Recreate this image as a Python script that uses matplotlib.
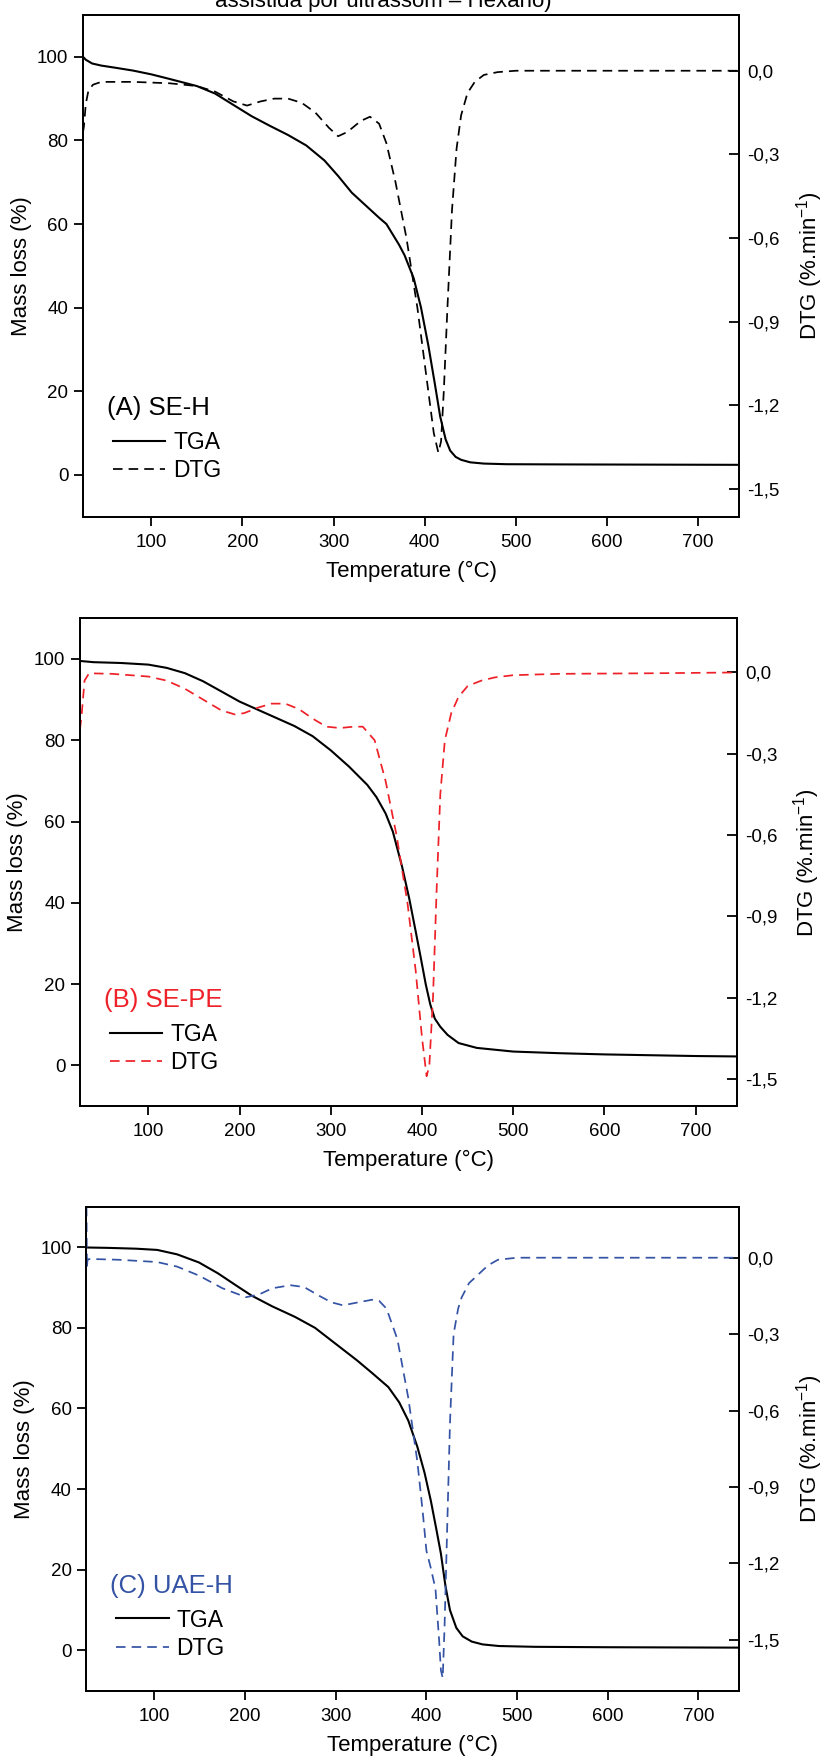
import numpy as np
import matplotlib.pyplot as plt

plt.rcParams['font.family'] = ['Liberation Sans', 'DejaVu Sans']
plt.rcParams['mathtext.fontset'] = 'custom'
plt.rcParams['mathtext.rm'] = 'Liberation Sans'
plt.rcParams['mathtext.default'] = 'regular'

# axis ticks
temp_ticks = [100, 200, 300, 400, 500, 600, 700]
mass_ticks = [0, 20, 40, 60, 80, 100]
dtg_ticks = [0.0, -0.3, -0.6, -0.9, -1.2, -1.5]
dtg_tick_labels = ['0,0', '-0,3', '-0,6', '-0,9', '-1,2', '-1,5']

# (A) SE-H
a_t_tga = [25, 28, 35, 45, 60, 80, 100, 120, 150, 170, 190, 210, 230, 250, 270, 290, 305, 320, 335, 350,
           358, 365, 372, 378, 388, 396, 404, 411, 417, 423, 428, 434, 440, 450, 465, 490, 550, 650, 745]
a_tga = [100, 99.3, 98.4, 97.9, 97.4, 96.7, 95.8, 94.7, 93.0, 91.2, 88.5, 85.8, 83.5, 81.3, 78.8, 75.2, 71.5,
         67.5, 64.5, 61.5, 60.0, 57.5, 55.0, 52.5, 47.0, 40.0, 31.0, 22.0, 14.0, 8.5, 5.8, 4.3, 3.6, 3.0, 2.7,
         2.55, 2.5, 2.45, 2.4]
a_t_dtg = [25, 26, 28, 31, 36, 45, 80, 120, 150, 170, 190, 205, 220, 235, 250, 265, 280, 295, 305, 315, 330,
           340, 350, 358, 368, 380, 392, 402, 410, 415, 418, 421, 425, 430, 435, 440, 447, 455, 465, 480,
           500, 600, 700, 745]
a_dtg = [-0.22, -0.2, -0.12, -0.07, -0.05, -0.04, -0.04, -0.045, -0.055, -0.075, -0.11, -0.125, -0.11, -0.1,
         -0.1, -0.115, -0.15, -0.205, -0.235, -0.22, -0.18, -0.165, -0.19, -0.26, -0.4, -0.6, -0.85, -1.1,
         -1.3, -1.37, -1.33, -1.15, -0.85, -0.5, -0.28, -0.16, -0.08, -0.04, -0.015, -0.005, 0, 0, 0, 0]

# (B) SE-PE
b_t_tga = [25, 40, 70, 100, 120, 140, 160, 180, 200, 220, 240, 260, 280, 300, 320, 340, 350, 360, 368, 378,
           386, 393, 399, 404, 409, 414, 420, 428, 440, 460, 500, 550, 600, 700, 745]
b_tga = [99.5, 99.2, 99.0, 98.6, 97.8, 96.5, 94.5, 92, 89.5, 87.5, 85.5, 83.5, 81, 77.5, 73.5, 69, 66, 62,
         57.5, 49, 41, 33, 26, 20, 15, 11.5, 9.5, 7.5, 5.5, 4.3, 3.4, 3.0, 2.7, 2.3, 2.2]
b_t_dtg = [25, 27, 30, 35, 60, 100, 120, 140, 160, 180, 195, 205, 220, 235, 250, 265, 280, 295, 310, 325,
           335, 348, 360, 372, 384, 393, 400, 405, 408, 412, 416, 420, 425, 432, 440, 450, 465, 480,
           500, 550, 650, 745]
b_dtg = [-0.21, -0.15, -0.03, -0.003, -0.005, -0.015, -0.03, -0.06, -0.1, -0.14, -0.155, -0.15, -0.13,
         -0.115, -0.115, -0.135, -0.17, -0.2, -0.205, -0.2, -0.2, -0.25, -0.4, -0.6, -0.85, -1.1, -1.35,
         -1.49, -1.45, -1.2, -0.8, -0.45, -0.25, -0.15, -0.09, -0.05, -0.03, -0.018, -0.01,
         -0.005, -0.003, 0]

# (C) UAE-H
c_t_tga = [25, 50, 80, 103, 125, 149, 170, 190, 207, 230, 255, 277, 300, 323, 340, 358, 370, 380, 390, 398,
           405, 411, 416, 421, 426, 433, 440, 450, 462, 480, 520, 600, 745]
c_tga = [99.9, 99.8, 99.6, 99.3, 98.2, 96.2, 93.5, 90.5, 88, 85.3, 82.7, 80, 76, 72, 68.8, 65.3, 61.5, 57,
         50.5, 44, 37, 30, 24, 16, 10, 5.6, 3.5, 2.2, 1.5, 1.1, 0.9, 0.8, 0.7]
c_t_dtg = [25, 25.5, 26, 27, 30, 60, 103, 125, 149, 175, 201, 215, 230, 250, 265, 282, 295, 308, 325, 340,
           348, 356, 368, 380, 390, 396, 400, 405, 410, 414, 416, 418, 420, 423, 426, 430, 435, 439, 447, 456,
           468, 479, 500, 600, 745]
c_dtg = [0.2, -0.04, -0.012, -0.006, -0.005, -0.008, -0.017, -0.035, -0.07, -0.12, -0.155, -0.145, -0.12,
         -0.108, -0.115, -0.15, -0.175, -0.187, -0.175, -0.165, -0.17, -0.2, -0.32, -0.55, -0.8, -1.0, -1.15,
         -1.22, -1.3, -1.5, -1.62, -1.65, -1.45, -1.05, -0.65, -0.3, -0.2, -0.155, -0.1, -0.07, -0.03,
         -0.008, 0, 0, 0]

fig = plt.figure(figsize=(8.22, 17.64), dpi=100)

# caption line cut off at the top of the source image
fig.text(0.466, 0.996, 'assistida por ultrassom \u2013 Hexano)', ha='center', va='baseline', fontsize=16)


def draw_panel(rect, t_tga, tga, t_dtg, dtg, name, color, dtg_lim):
    ax = fig.add_axes(rect)
    ax2 = ax.twinx()
    l1, = ax.plot(t_tga, tga, color='black', lw=1.5, label='TGA')
    l2, = ax2.plot(t_dtg, dtg, color=color, lw=1.25, dashes=(5.5, 3.5), label='DTG')

    ax.set_xlim(25, 745)
    ax.set_ylim(-10, 110)
    ax2.set_ylim(*dtg_lim)
    ax.set_xticks(temp_ticks)
    ax.set_yticks(mass_ticks)
    ax2.set_yticks(dtg_ticks)
    ax2.set_yticklabels(dtg_tick_labels)

    for a in (ax, ax2):
        for s in a.spines.values():
            s.set_linewidth(1.3)
    ax.tick_params(axis='y', direction='out', length=6.5, width=1.3, labelsize=13.5, pad=4)
    ax.tick_params(axis='x', direction='out', length=6.5, width=1.3, labelsize=13.5, pad=6)
    ax2.tick_params(axis='y', direction='in', length=7, width=1.3, labelsize=13.5, pad=6)

    ax.set_xlabel('Temperature (\u00b0C)', fontsize=16, labelpad=7)
    ax.set_ylabel('Mass loss (%)', fontsize=16, labelpad=4)
    ax2.set_ylabel('DTG (%.min$^{-1}$)', fontsize=16, labelpad=10)

    ax2.text(0.036, 0.217, name, transform=ax.transAxes, va='center', ha='left', fontsize=18.5, color=color)
    ax2.legend(handles=[l1, l2], loc='upper left', bbox_to_anchor=(0.045, 0.17), frameon=False, fontsize=16.5,
               handlelength=2.3, handletextpad=0.35, labelspacing=0.22, borderpad=0, borderaxespad=0)
    return ax, ax2


draw_panel([0.101, 0.7071, 0.798, 0.2844], a_t_tga, a_tga, a_t_dtg, a_dtg, '(A) SE-H', 'black', (-1.6, 0.2))
draw_panel([0.0973, 0.373, 0.799, 0.2765], b_t_tga, b_tga, b_t_dtg, b_dtg, '(B) SE-PE', '#ee2128', (-1.6, 0.2))
draw_panel([0.1052, 0.0415, 0.794, 0.2744], c_t_tga, c_tga, c_t_dtg, c_dtg, '(C) UAE-H', '#3453a5', (-1.7, 0.2))

fig.savefig('out.png', dpi=100)
